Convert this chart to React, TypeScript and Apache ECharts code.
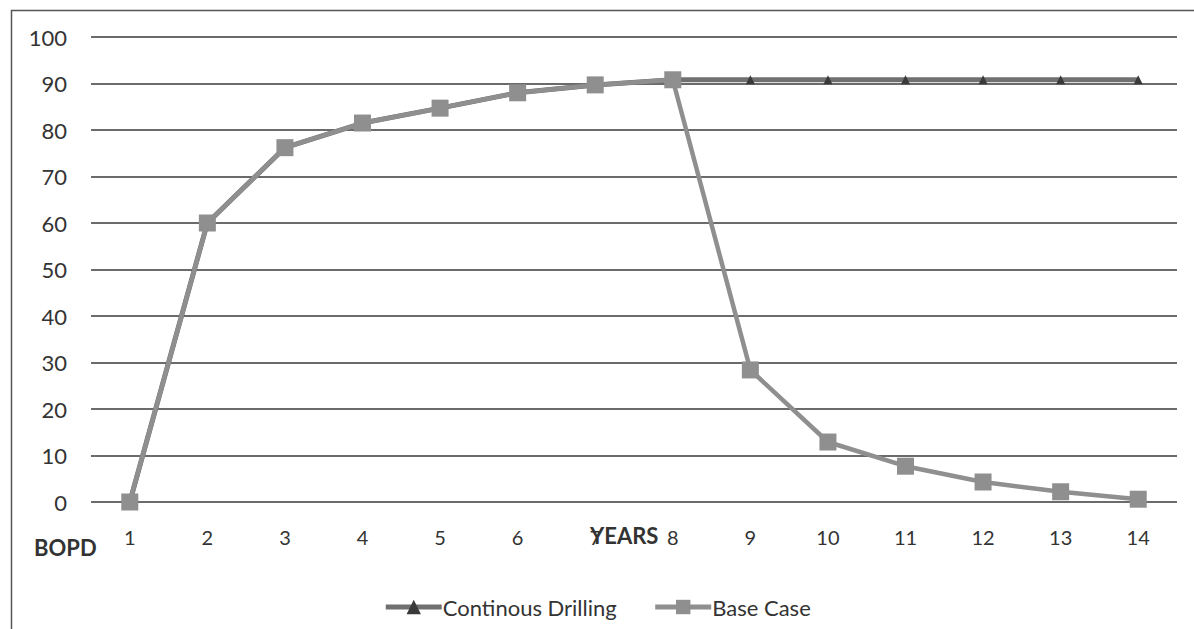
import React, { useEffect, useRef } from "react";
import * as echarts from "echarts";

const years = ["1", "2", "3", "4", "5", "6", "7", "8", "9", "10", "11", "12", "13", "14"];
const continuousDrilling = [0, 60, 76.2, 81.5, 84.7, 88, 89.7, 90.8, 90.8, 90.8, 90.8, 90.8, 90.8, 90.8];
const baseCase = [0, 60, 76.2, 81.5, 84.7, 88, 89.7, 90.8, 28.4, 12.9, 7.7, 4.3, 2.2, 0.6];
const yTicks = [0, 10, 20, 30, 40, 50, 60, 70, 80, 90, 100];

const FONT = "Lato, 'Open Sans', sans-serif";

export default function App() {
  const ref = useRef<HTMLDivElement>(null);
  useEffect(() => {
    document.body.style.margin = "0";
    const chart = echarts.init(ref.current!, null, { renderer: "svg" });
    chart.setOption({
      animation: false,
      backgroundColor: "#ffffff",
      textStyle: { fontFamily: FONT },
      grid: { left: 91, right: 17, top: 37, bottom: 127 },
      xAxis: {
        type: "category",
        data: years,
        boundaryGap: true,
        axisLine: { show: false },
        axisTick: { show: false },
        axisLabel: {
          color: "#333",
          fontSize: 20,
          margin: 25,
          fontFamily: FONT,
        },
      },
      yAxis: {
        type: "value",
        min: yTicks[0],
        max: yTicks[yTicks.length - 1],
        interval: 10,
        axisLine: { show: false },
        axisTick: { show: false },
        axisLabel: { color: "#333", fontSize: 22, margin: 24, fontFamily: FONT },
        splitLine: { lineStyle: { color: "#3a3a3a", width: 1.5 } },
      },
      legend: {
        bottom: 6,
        left: "center",
        itemWidth: 56,
        itemHeight: 18,
        itemGap: 36,
        lineStyle: { width: 5 },
        textStyle: { color: "#333", fontSize: 22, fontFamily: FONT, padding: [0, 0, 0, -4] },
        data: ["Continous Drilling", "Base Case"],
      },
      series: [
        {
          name: "Continous Drilling",
          type: "line",
          data: continuousDrilling,
          symbol: "triangle",
          symbolSize: 9,
          itemStyle: { color: "#3a3a3a" },
          lineStyle: { color: "#707070", width: 5 },
          z: 2,
        },
        {
          name: "Base Case",
          type: "line",
          data: baseCase,
          symbol: "rect",
          symbolSize: 17,
          itemStyle: { color: "#8f8f8f" },
          lineStyle: { color: "#8f8f8f", width: 4.5 },
          z: 3,
        },
      ],
      graphic: [
        {
          type: "rect",
          left: 9,
          top: 8,
          shape: { width: 1300, height: 800 },
          style: { fill: "none", stroke: "#555", lineWidth: 1.5 },
          silent: true,
          z: -1,
        },
        {
          type: "text",
          left: 34,
          top: 536,
          style: { text: "BOPD", fontSize: 22, fontWeight: "bold", fill: "#333", fontFamily: FONT },
        },
        {
          type: "text",
          left: 590,
          top: 524,
          z: 10,
          style: { text: "YEARS", fontSize: 22, fontWeight: "bold", fill: "#333", fontFamily: FONT },
        },
      ],
    });
    return () => chart.dispose();
  }, []);
  return <div ref={ref} style={{ width: 1194, height: 629 }} />;
}
